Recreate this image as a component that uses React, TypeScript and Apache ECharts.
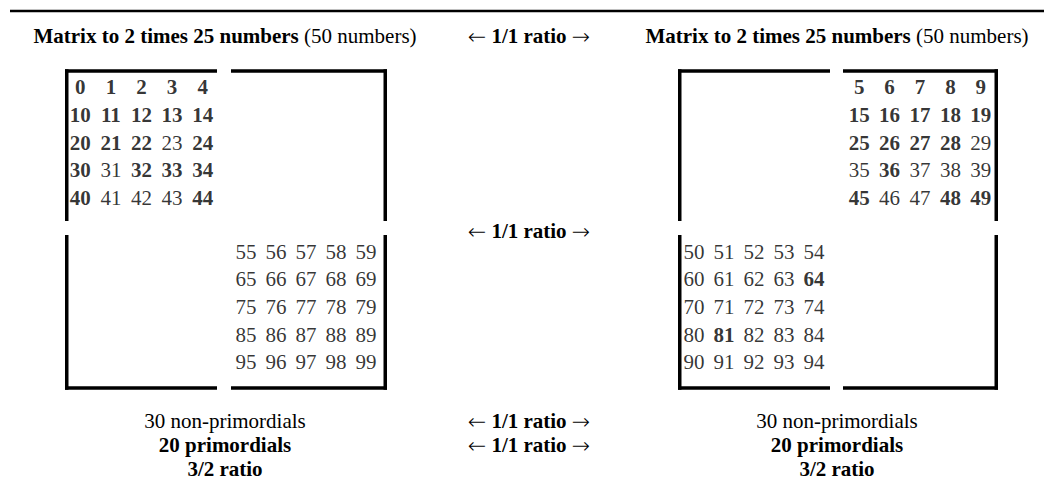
import React, { useEffect, useRef } from "react";
import * as echarts from "echarts";

// ---- Data ----
const leftTop = [
  [0, 1, 2, 3, 4],
  [10, 11, 12, 13, 14],
  [20, 21, 22, 23, 24],
  [30, 31, 32, 33, 34],
  [40, 41, 42, 43, 44],
];
const leftBottom = [
  [55, 56, 57, 58, 59],
  [65, 66, 67, 68, 69],
  [75, 76, 77, 78, 79],
  [85, 86, 87, 88, 89],
  [95, 96, 97, 98, 99],
];
const rightTop = [
  [5, 6, 7, 8, 9],
  [15, 16, 17, 18, 19],
  [25, 26, 27, 28, 29],
  [35, 36, 37, 38, 39],
  [45, 46, 47, 48, 49],
];
const rightBottom = [
  [50, 51, 52, 53, 54],
  [60, 61, 62, 63, 64],
  [70, 71, 72, 73, 74],
  [80, 81, 82, 83, 84],
  [90, 91, 92, 93, 94],
];
const primordialsLeft = [0, 1, 2, 3, 4, 10, 11, 12, 13, 14, 20, 21, 22, 24, 30, 32, 33, 34, 40, 44];
const primordialsRight = [5, 6, 7, 8, 9, 15, 16, 17, 18, 19, 25, 26, 27, 28, 36, 45, 48, 49, 64, 81];

const headerBold = "Matrix to 2 times 25 numbers";
const headerNormal = " (50 numbers)";
const ratioText = "1/1 ratio";
const footerLines = ["30 non-primordials", "20 primordials", "3/2 ratio"];

// ---- Styles / layout ----
const FONT = "Liberation Serif";
const FS = 21;
const INK = "#000";

const quadGrids = [
  { left: 65, top: 73, width: 153, height: 139 }, // left top
  { left: 231, top: 238, width: 150, height: 138 }, // left bottom
  { left: 844, top: 73, width: 152, height: 139 }, // right top
  { left: 679, top: 238, width: 150, height: 138 }, // right bottom
];

function brackets(L: number, R: number, gL: number, gR: number) {
  const T = 71, B = 388, vm1 = 221, vm2 = 235, lw = 3.5;
  const st = { stroke: INK, lineWidth: lw };
  const seg = (x1: number, y1: number, x2: number, y2: number) => ({
    type: "line",
    shape: { x1, y1, x2, y2 },
    style: st,
    silent: true,
  });
  const lx = L + lw / 2, rx = R - lw / 2;
  return [
    seg(L, T, gL, T),
    seg(gR, T, R, T),
    seg(lx, T - lw / 2, lx, vm1),
    seg(rx, T - lw / 2, rx, vm1),
    seg(lx, vm2, lx, B + lw / 2),
    seg(rx, vm2, rx, B + lw / 2),
    seg(L, B, gL, B),
    seg(gR, B, R, B),
  ];
}

const richStyles = {
  b: { fontWeight: "bold", fontFamily: FONT, fontSize: FS, fill: INK, color: INK },
  n: { fontWeight: "normal", fontFamily: FONT, fontSize: FS, fill: INK, color: INK },
  a: { fontWeight: 200, fontFamily: "DejaVu Sans", fontSize: FS + 1, fill: INK, color: INK },
};

function txt(x: number, y: number, text: string) {
  return {
    type: "text",
    x,
    y,
    silent: true,
    style: {
      text,
      fill: INK,
      fontFamily: FONT,
      fontSize: FS,
      lineHeight: 22,
      align: "center",
      verticalAlign: "middle",
      rich: richStyles,
    },
  };
}

const headerRich = `{b|${headerBold}}{n|${headerNormal}}`;
const arrowRich = `{a|←}{n| }{b|${ratioText}}{n| }{a|→}`;

export default function App() {
  const ref = useRef<HTMLDivElement>(null);
  useEffect(() => {
    if (!ref.current) return;
    const chart = echarts.init(ref.current, null, { renderer: "svg" });
    const quads = [leftTop, leftBottom, rightTop, rightBottom];
    const boldSets = [primordialsLeft, primordialsLeft, primordialsRight, primordialsRight];
    const series = quads.map((rows, i) => ({
      type: "scatter",
      xAxisIndex: i,
      yAxisIndex: i,
      symbolSize: 0,
      silent: true,
      data: rows.flatMap((row, r) => row.map((v, c) => [c, r, v])),
      label: {
        show: true,
        position: "inside",
        color: INK,
        fontFamily: FONT,
        fontSize: FS,
        formatter: (p: any) => {
          const v = p.value[2];
          return boldSets[i].includes(v) ? `{b|${v}}` : `{n|${v}}`;
        },
        rich: richStyles,
      },
      emphasis: { disabled: true },
    }));
    chart.setOption({
      animation: false,
      backgroundColor: "#fff",
      textStyle: { fontFamily: FONT, color: INK },
      grid: quadGrids.map((g) => ({ ...g, containLabel: false })),
      xAxis: quadGrids.map((_, i) => ({ type: "value", gridIndex: i, min: -0.5, max: 4.5, show: false })),
      yAxis: quadGrids.map((_, i) => ({ type: "value", gridIndex: i, min: -0.5, max: 4.5, inverse: true, show: false })),
      series,
      graphic: [
        { type: "line", shape: { x1: 10, y1: 11, x2: 1044, y2: 11 }, style: { stroke: INK, lineWidth: 2.5 }, silent: true },
        ...brackets(65, 387, 217, 231),
        ...brackets(678, 998, 830, 843),
        txt(225, 36, headerRich),
        txt(529, 36, arrowRich),
        txt(837, 36, headerRich),
        txt(529, 231, arrowRich),
        txt(225, 421, `{n|${footerLines[0]}}`),
        txt(225, 445, `{b|${footerLines[1]}}`),
        txt(225, 469, `{b|${footerLines[2]}}`),
        txt(529, 421, arrowRich),
        txt(529, 445, arrowRich),
        txt(837, 421, `{n|${footerLines[0]}}`),
        txt(837, 445, `{b|${footerLines[1]}}`),
        txt(837, 469, `{b|${footerLines[2]}}`),
      ],
    });
    return () => chart.dispose();
  }, []);
  return (
    <div
      ref={ref}
      style={{ position: "fixed", left: 0, top: 0, width: 1044, height: 482, background: "#fff" }}
    />
  );
}
